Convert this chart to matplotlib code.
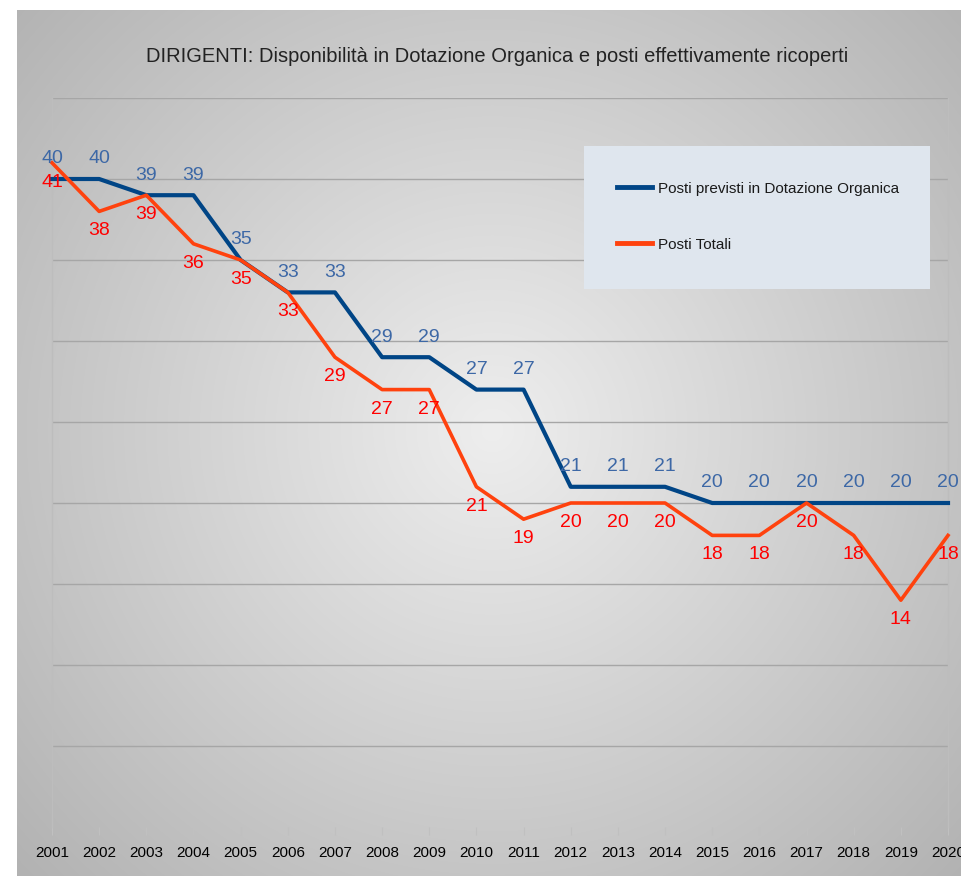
import matplotlib
matplotlib.use('Agg')
import matplotlib.pyplot as plt
import numpy as np
from matplotlib import font_manager
from matplotlib.patches import Rectangle

# font condensato se disponibile
names = {f.name for f in font_manager.fontManager.ttflist}
font = 'Liberation Sans Narrow' if 'Liberation Sans Narrow' in names else 'Liberation Sans'
plt.rcParams['font.family'] = [font, 'DejaVu Sans']

# dati
years = [str(y) for y in range(2001, 2021)]
posti_previsti = [40, 40, 39, 39, 35, 33, 33, 29, 29, 27, 27, 21, 21, 21, 20, 20, 20, 20, 20, 20]
posti_totali = [41, 38, 39, 36, 35, 33, 29, 27, 27, 21, 19, 20, 20, 20, 18, 18, 20, 18, 14, 18]
label_previsti = 'Posti previsti in Dotazione Organica'
label_totali = 'Posti Totali'
title = 'DIRIGENTI: Disponibilità in Dotazione Organica e posti effettivamente ricoperti'

W, H = 962, 876
fig = plt.figure(figsize=(W / 100, H / 100), dpi=100)

# sfondo con sfumatura radiale
bg = fig.add_axes([17 / W, 0, 1 - 17 / W, 1 - 10 / H], zorder=-10)
yy, xx = np.mgrid[0:866, 0:945]
r = np.sqrt((xx - 475) ** 2 + (yy - 420) ** 2) / 650
g = np.clip(238 - 60 * r, 170, 240) / 255
bg.imshow(np.dstack([g, g, g]), aspect='auto', extent=(0, 1, 0, 1), interpolation='bilinear')
bg.axis('off')

ax = fig.add_axes([52 / W, 49 / H, 896 / W, 729 / H])
ax.set_facecolor('none')
x = np.arange(len(years))

ax.plot(x, posti_previsti, color='#004586', lw=3.0, label=label_previsti, zorder=3,
        clip_on=False, solid_joinstyle='round')
ax.plot(x, posti_totali, color='#ff420e', lw=2.6, label=label_totali, zorder=4,
        clip_on=False, solid_joinstyle='round')

for i in x:
    ax.annotate(str(posti_previsti[i]), (i, posti_previsti[i]), xytext=(0, 14.5),
                textcoords='offset points', ha='center', va='center',
                fontsize=14, color='#3d68a6', zorder=5, annotation_clip=False)
    ax.annotate(str(posti_totali[i]), (i, posti_totali[i]), xytext=(0, -14),
                textcoords='offset points', ha='center', va='center',
                fontsize=14, color='#ff0000', zorder=5, annotation_clip=False)

ax.set_xlim(0, len(years) - 1)
ax.set_ylim(0, 45)
ax.set_yticks(np.arange(5, 50, 5))
ax.yaxis.grid(True, color='#a6a6a6', lw=1)
ax.tick_params(axis='y', length=0, labelleft=False)
ax.set_xticks(x)
ax.set_xticklabels(years, fontsize=11)
ax.tick_params(axis='x', length=6, color='#c0c0c0', pad=8)
for s in ['top', 'bottom']:
    ax.spines[s].set_visible(False)
for s in ['left', 'right']:
    ax.spines[s].set_color('#bdbdbd')
    ax.spines[s].set_linewidth(1)

fig.text(497 / W, 1 - 57 / H, title, ha='center', va='center', fontsize=14.5, color='#222222')

# legenda
ax.add_patch(Rectangle((584 / W, 1 - 289 / H), 346 / W, 143 / H, transform=fig.transFigure,
                       facecolor='#dfe6ee', edgecolor='none', zorder=5, clip_on=False))
leg = ax.legend(loc='upper left', bbox_to_anchor=(603 / W, 1 - 168 / H),
                bbox_transform=fig.transFigure, frameon=False, fontsize=11,
                handlelength=2.3, handletextpad=0.4, labelspacing=2.75)
for h in leg.get_lines():
    h.set_linewidth(3.5)
for t in leg.get_texts():
    t.set_color('#1a1a1a')
leg.set_zorder(6)

plt.savefig('out.png', dpi=100)
